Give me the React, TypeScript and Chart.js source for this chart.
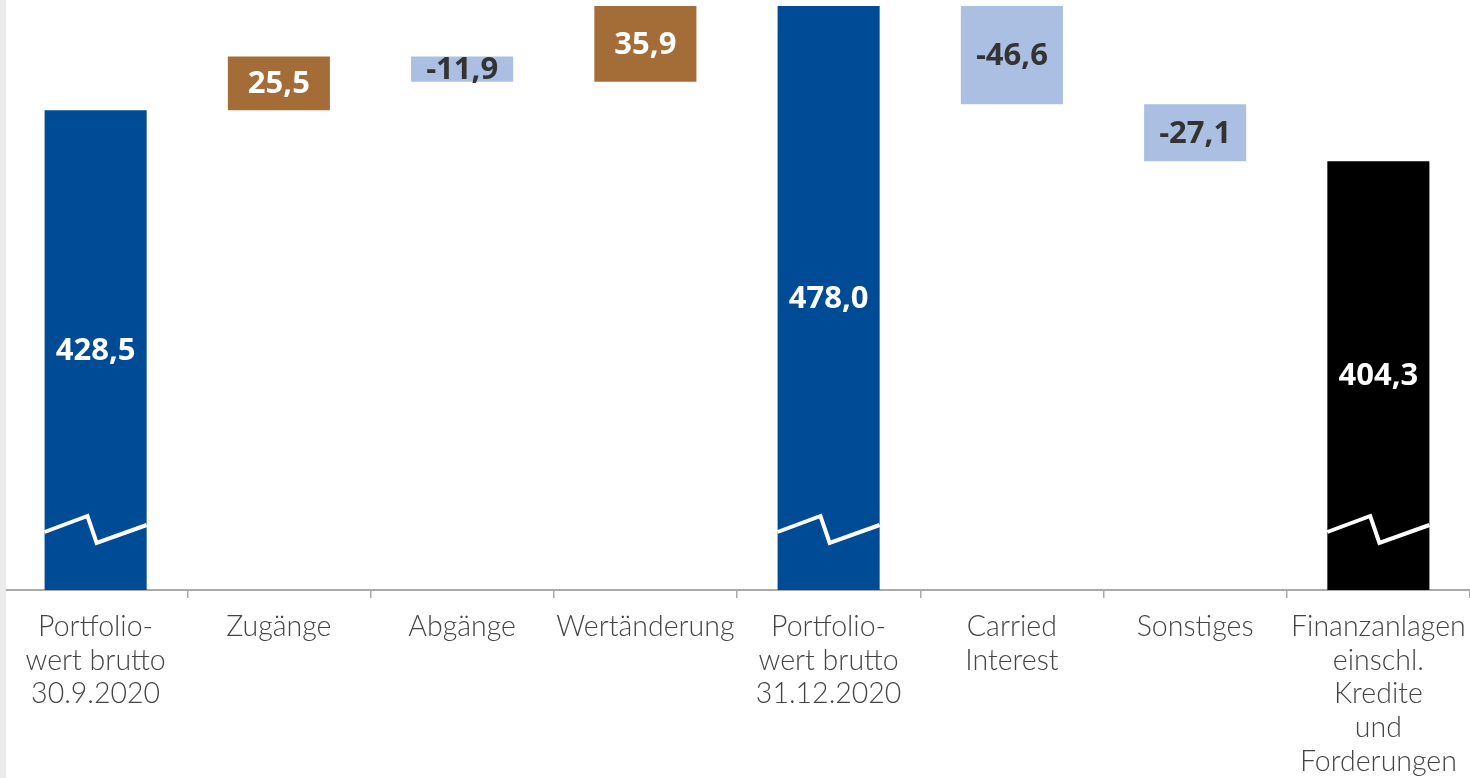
import { useEffect, useRef } from 'react';
import { Chart, registerables } from 'chart.js';

Chart.register(...registerables);

const categories: string[][] = [
  ['Portfolio-', 'wert brutto', '30.9.2020'],
  ['Zugänge'],
  ['Abgänge'],
  ['Wertänderung'],
  ['Portfolio-', 'wert brutto', '31.12.2020'],
  ['Carried', 'Interest'],
  ['Sonstiges'],
  ['Finanzanlagen', 'einschl.', 'Kredite', 'und', 'Forderungen'],
];
const values = [428.5, 25.5, -11.9, 35.9, 478.0, -46.6, -27.1, 404.3];
const isTotal = [true, false, false, false, true, false, false, true];
const barColors = ['#004B96', '#A46C37', '#AABFE2', '#A46C37', '#004B96', '#AABFE2', '#AABFE2', '#000000'];
const labelColors = ['#FFFFFF', '#FFFFFF', '#333333', '#FFFFFF', '#FFFFFF', '#333333', '#333333', '#FFFFFF'];

const AXIS_MIN = 200.6;
const AXIS_MAX = 480.9;

function buildRanges(): [number, number][] {
  const out: [number, number][] = [];
  let running = 0;
  values.forEach((v, i) => {
    if (isTotal[i]) {
      out.push([AXIS_MIN, v]);
      running = v;
    } else {
      const next = running + v;
      out.push([Math.min(running, next), Math.max(running, next)]);
      running = next;
    }
  });
  return out;
}

const fmt = (v: number) => v.toFixed(1).replace('.', ',');

export default function App() {
  const ref = useRef<HTMLCanvasElement | null>(null);

  useEffect(() => {
    document.body.style.margin = '0';
    const canvas = ref.current;
    if (!canvas) return;

    const decor = {
      id: 'decor',
      afterDatasetsDraw(chart: any) {
        const ctx = chart.ctx;
        const meta = chart.getDatasetMeta(0);
        const yScale = chart.scales.y;
        const base = yScale.getPixelForValue(AXIS_MIN);
        meta.data.forEach((el: any, i: number) => {
          const { x, y, base: b, width } = el.getProps(['x', 'y', 'base', 'width'], true);
          const top = Math.min(y, b);
          const bottom = Math.max(y, b);
          if (isTotal[i]) {
            const left = x - width / 2;
            const right = x + width / 2;
            ctx.save();
            ctx.strokeStyle = '#FFFFFF';
            ctx.lineWidth = 4;
            ctx.lineJoin = 'miter';
            ctx.beginPath();
            ctx.moveTo(left, base - 58);
            ctx.lineTo(left + width * 0.42, base - 74);
            ctx.lineTo(left + width * 0.51, base - 47);
            ctx.lineTo(right, base - 65);
            ctx.stroke();
            ctx.restore();
          }
          ctx.save();
          ctx.fillStyle = labelColors[i];
          ctx.font = '700 31px "Open Sans"';
          ctx.textAlign = 'center';
          ctx.textBaseline = 'middle';
          ctx.fillText(fmt(values[i]), x, (top + bottom) / 2 + 1);
          ctx.restore();
        });
      },
      afterDraw(chart: any) {
        const ctx = chart.ctx;
        ctx.save();
        ctx.fillStyle = '#EBEBEB';
        ctx.fillRect(0, 0, 6, chart.height);
        ctx.restore();
      },
    };

    const chart = new Chart(canvas, {
      type: 'bar',
      data: {
        labels: categories,
        datasets: [
          {
            data: buildRanges() as any,
            backgroundColor: barColors,
            borderWidth: 0,
            barPercentage: 0.557,
            categoryPercentage: 1,
          },
        ],
      },
      options: {
        responsive: false,
        animation: false,
        layout: { padding: { left: 4, right: 0, top: 0, bottom: 0 } },
        plugins: {
          legend: { display: false },
          tooltip: { enabled: false },
        },
        scales: {
          x: {
            afterFit: (scale: any) => {
              scale.height = 188;
              scale.paddingLeft = 0;
              scale.paddingRight = 0;
            },
            grid: {
              display: true,
              drawOnChartArea: false,
              drawTicks: true,
              tickLength: 8,
              color: '#AAAAAA',
              lineWidth: 1.5,
            },
            border: { display: true, color: '#AAAAAA', width: 2 },
            ticks: {
              autoSkip: false,
              maxRotation: 0,
              minRotation: 0,
              padding: 12,
              color: '#444444',
              font: { family: 'Lato', size: 28.5, weight: '300' as any, lineHeight: 1.18 },
            },
          },
          y: {
            display: false,
            min: AXIS_MIN,
            max: AXIS_MAX,
          },
        },
      },
      plugins: [decor],
    });

    return () => chart.destroy();
  }, []);

  return <canvas ref={ref} width={1470} height={778} style={{ display: 'block' }} />;
}
